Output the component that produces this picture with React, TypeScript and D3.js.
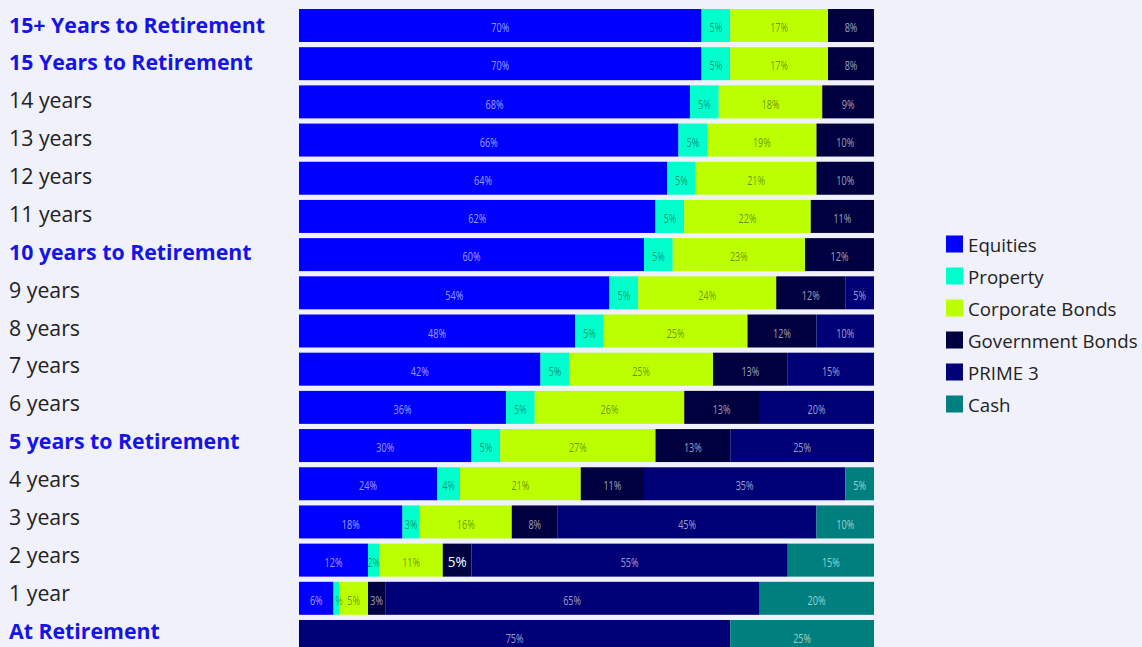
import React from "react";
import * as d3 from "d3";

// Glide-path allocation by years remaining to retirement
const categories = [
  "15+ Years to Retirement",
  "15 Years to Retirement",
  "14 years",
  "13 years",
  "12 years",
  "11 years",
  "10 years to Retirement",
  "9 years",
  "8 years",
  "7 years",
  "6 years",
  "5 years to Retirement",
  "4 years",
  "3 years",
  "2 years",
  "1 year",
  "At Retirement",
];

const milestones = [
  "15+ Years to Retirement",
  "15 Years to Retirement",
  "10 years to Retirement",
  "5 years to Retirement",
  "At Retirement",
];

const seriesNames = [
  "Equities",
  "Property",
  "Corporate Bonds",
  "Government Bonds",
  "PRIME 3",
  "Cash",
];

const equities = [70, 70, 68, 66, 64, 62, 60, 54, 48, 42, 36, 30, 24, 18, 12, 6, 0];
const property = [5, 5, 5, 5, 5, 5, 5, 5, 5, 5, 5, 5, 4, 3, 2, 1, 0];
const corporateBonds = [17, 17, 18, 19, 21, 22, 23, 24, 25, 25, 26, 27, 21, 16, 11, 5, 0];
const governmentBonds = [8, 8, 9, 10, 10, 11, 12, 12, 12, 13, 13, 13, 11, 8, 5, 3, 0];
const prime3 = [0, 0, 0, 0, 0, 0, 0, 5, 10, 15, 20, 25, 35, 45, 55, 65, 75];
const cash = [0, 0, 0, 0, 0, 0, 0, 0, 0, 0, 0, 0, 5, 10, 15, 20, 25];

const seriesValues = [equities, property, corporateBonds, governmentBonds, prime3, cash];

const colors = ["#0000ff", "#00ffcc", "#bbff00", "#000040", "#000077", "#007f7f"];
const labelColors = [
  "rgba(255,255,255,0.62)",
  "rgba(0,0,0,0.45)",
  "rgba(0,0,0,0.45)",
  "rgba(255,255,255,0.62)",
  "rgba(255,255,255,0.62)",
  "rgba(255,255,255,0.62)",
];

// Cell whose value label is shown emphasised
const emphasised = [["2 years", "Government Bonds"]];

const W = 1142;
const H = 647;

export default function App() {
  const rows = categories.map((c, i) => {
    const r: any = { category: c };
    seriesNames.forEach((s, k) => (r[s] = seriesValues[k][i]));
    return r;
  });
  const stacked = d3.stack().keys(seriesNames)(rows);

  const x = d3.scaleLinear().domain([0, 100]).range([299, 874]);
  const y = d3
    .scaleBand()
    .domain(categories)
    .range([9, 653])
    .paddingInner(0.136)
    .paddingOuter(0);
  const yLabel = d3.scalePoint().domain(categories).range([24, 630]);
  const legendY = d3.scalePoint().domain(seriesNames).range([244, 404]);

  const isEmph = (c: string, s: string) =>
    emphasised.some(([ec, es]) => ec === c && es === s);

  return (
    <svg
      width={W}
      height={H}
      style={{ position: "absolute", left: 0, top: 0, display: "block" }}
      fontFamily="'Open Sans', 'Noto Sans', sans-serif"
    >
      <rect x={0} y={0} width={W} height={H} fill="#f1f1fb" />

      {categories.map((c) => {
        const bold = milestones.includes(c);
        return (
          <text
            key={c}
            x={9}
            y={yLabel(c)}
            dominantBaseline="central"
            fontSize={21.3}
            fontWeight={bold ? 700 : 400}
            fill={bold ? "#1414e6" : "#222222"}
          >
            {c}
          </text>
        );
      })}

      {stacked.map((layer, k) => (
        <g key={layer.key} fill={colors[k]}>
          {layer.map((d, i) => {
            const w = x(d[1]) - x(d[0]);
            if (w <= 0) return null;
            return (
              <rect
                key={i}
                x={x(d[0])}
                y={y(categories[i])}
                width={w}
                height={y.bandwidth()}
              />
            );
          })}
        </g>
      ))}

      {stacked.map((layer, k) => (
        <g key={layer.key + "-labels"}>
          {layer.map((d, i) => {
            const v = d[1] - d[0];
            if (v <= 0) return null;
            const cx = (x(d[0]) + x(d[1])) / 2;
            const cy = (y(categories[i]) as number) + y.bandwidth() / 2 + 1.5;
            const emph = isEmph(categories[i], layer.key);
            return (
              <text
                key={i}
                transform={`translate(${cx},${cy}) scale(${emph ? 0.9 : 0.7},1)`}
                textAnchor="middle"
                dominantBaseline="central"
                fontSize={emph ? 15 : 13}
                fill={emph ? "#ffffff" : labelColors[k]}
              >
                {`${v}%`}
              </text>
            );
          })}
        </g>
      ))}

      {seriesNames.map((s, k) => (
        <g key={s} transform={`translate(946,${legendY(s)})`}>
          <rect x={0} y={-8.5} width={17} height={17} fill={colors[k]} />
          <text x={22} y={0} dominantBaseline="central" fontSize={18.7} fill="#222222">
            {s}
          </text>
        </g>
      ))}
    </svg>
  );
}
